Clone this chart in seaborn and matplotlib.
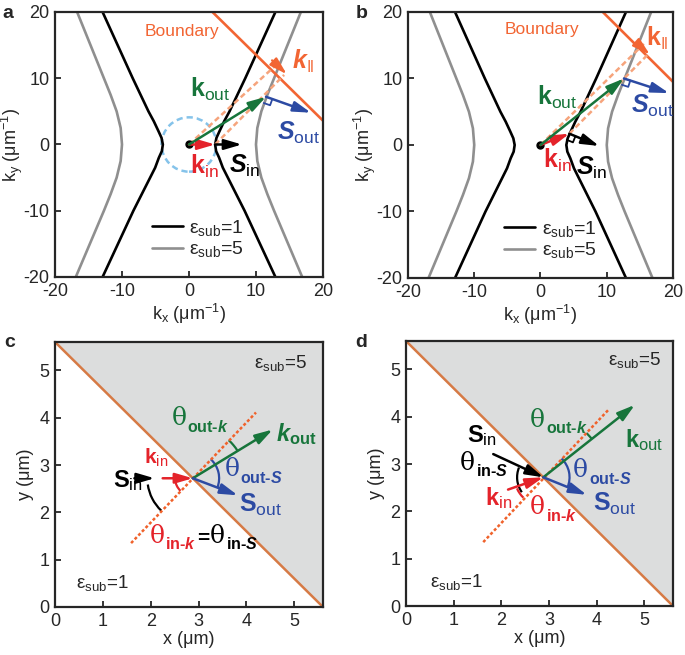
import numpy as np
import pandas as pd
import matplotlib
matplotlib.use("Agg")
import matplotlib.pyplot as plt
from matplotlib.patches import Arc, Circle
from matplotlib.lines import Line2D
import seaborn as sns

# ---- data ----
# dispersion curves, right branch (left branch is the mirror image)
ky_eps1 = [-20, -15, -10, -5, -3.5, -2, -1, 0, 1, 2, 3.5, 5, 10, 15, 20]
kx_eps1 = [12.9, 10.6, 8.3, 5.8, 5.05, 4.5, 4.05, 3.9, 4.1, 4.55, 5.25, 6.05, 8.4, 10.65, 12.9]
ky_eps5 = [-20, -15, -10, -7.5, -5, -2.5, 0, 2.5, 5, 7.5, 10, 15, 20]
kx_eps5 = [16.9, 14.8, 12.7, 11.7, 10.8, 10.2, 10.0, 10.2, 10.8, 11.7, 12.7, 14.7, 16.7]

# panel a vectors (kx, ky)
a_kin = (3.9, 0.0)
a_sin = (7.9, 0.0)
a_kout = (11.5, 7.2)
a_sout = (18.2, 4.8)
a_bound_x = [3.5, 20.0]
a_bound_y = [20.0, 3.6]
a_kpar = [(12.4, 12.7), (14.6, 10.6)]
a_dash_up = [(0.0, 0.0), (12.9, 11.9)]
a_dash_lo = [(3.9, 0.0), (14.2, 10.5)]
a_circle_r = 4.1

# panel b vectors
b_kin = (4.35, 1.7)
b_sin = (8.85, -0.15)
b_kout = (12.6, 10.0)
b_sout = (19.4, 7.8)
b_bound_x = [9.4, 20.0]
b_bound_y = [20.0, 9.5]
b_kpar = [(14.9, 15.0), (16.5, 13.6)]
b_dash_up = [(0.0, 0.0), (15.6, 15.2)]
b_dash_lo = [(4.35, 1.7), (16.1, 13.5)]

# panels c/d: real space
xy_ticks = [0, 1, 2, 3, 4, 5]
bound_x = [0.0, 5.6]
bound_y = [5.6, 0.0]
hit = (2.88, 2.72)
c_normal = [(1.59, 1.35), (4.2, 4.11)]
c_sin = [(1.66, 2.72), (2.08, 2.72)]
c_kin = [(2.25, 2.72), hit]
c_kout = (4.55, 3.75)
c_sout = (3.82, 2.36)
c_arcs = [(0.95, 188, 226, "k"), (0.37, 185, 226, "red"),
          (1.1, 32, 47, "green"), (0.55, -21, 47, "blue")]

d_normal = [(1.62, 1.35), (4.24, 4.14)]
d_sin = [(1.83, 3.21), hit]
d_kin = [(2.14, 2.46), hit]
d_kout = (4.8, 4.25)
d_sout = (3.79, 2.35)
d_arcs = [(0.55, 158, 215, "k"), (0.6, 203, 226, "red"),
          (1.3, 39, 46, "green"), (0.55, -23, 46, "blue")]

# ---- style ----
sns.set_style("ticks")
plt.rcParams["font.family"] = ["Liberation Sans", "DejaVu Sans"]
plt.rcParams["axes.unicode_minus"] = False
plt.rcParams["mathtext.fontset"] = "custom"
plt.rcParams["mathtext.rm"] = "Liberation Sans"
plt.rcParams["mathtext.bf"] = "Liberation Sans:bold"
plt.rcParams["mathtext.it"] = "Liberation Sans:italic"
plt.rcParams["mathtext.bfit"] = "Liberation Sans:italic:bold"

COL = {"red": "#e4232a", "green": "#17753b", "blue": "#2c4aa3", "k": "black",
       "orange": "#f26533", "salmon": "#f6a47c", "lblue": "#85c3ea",
       "gray": "#8f8f8f", "bound": "#d67a45", "normal": "#f0622b", "fill": "#dcdddd"}


def arrow(ax, p0, p1, color, lw=1.8, hl=0.75, hw=0.22, ms=14):
    ax.annotate("", xy=p1, xytext=p0,
                arrowprops=dict(arrowstyle=f"-|>,head_length={hl},head_width={hw}",
                                color=color, lw=lw, shrinkA=0, shrinkB=0,
                                mutation_scale=ms))


def right_angle(ax, corner, toward, color, s=1.0):
    # small square: one side along the arrow, the other pointing down-left of it
    u = np.subtract(toward, corner)
    u = u / np.hypot(*u)
    v = np.array([-abs(u[1]), -abs(u[0])])
    c = np.array(corner)
    pts = np.array([c + s * u, c + s * u + s * v, c + s * v])
    ax.plot(pts[:, 0], pts[:, 1], color=color, lw=1.3)


def style_axes(ax):
    for sp in ax.spines.values():
        sp.set_linewidth(1.6)
        sp.set_visible(True)
    ax.tick_params(direction="in", length=4, width=1.3, labelsize=13,
                   top=False, right=False, pad=4)


fig = plt.figure(figsize=(6.85, 6.55), dpi=100)
ax_a = fig.add_axes([0.0803, 0.5771, 0.3912, 0.4046])
ax_b = fig.add_axes([0.5956, 0.5756, 0.3869, 0.4061])
ax_c = fig.add_axes([0.0803, 0.0733, 0.3912, 0.4046])
ax_d = fig.add_axes([0.5927, 0.0748, 0.3898, 0.4046])

curves = pd.DataFrame({"ky": ky_eps1 + ky_eps5,
                       "kx": kx_eps1 + kx_eps5,
                       "eps": ["1"] * len(ky_eps1) + ["5"] * len(ky_eps5)})

eps_lab = lambda v: "ε$_{\\mathrm{sub}}$=" + v


def kspace(ax, kin, sin, kout, sout, bx, by, kpar, dup, dlo):
    for eps, col in [("5", COL["gray"]), ("1", COL["k"])]:
        sub = curves[curves.eps == eps]
        sns.lineplot(x=sub.kx.values, y=sub.ky.values, sort=False, estimator=None,
                     color=col, lw=1.9, ax=ax)
        sns.lineplot(x=-sub.kx.values, y=sub.ky.values, sort=False, estimator=None,
                     color=col, lw=1.9, ax=ax)
    ax.plot(bx, by, color=COL["orange"], lw=1.9)
    for d in (dup, dlo):
        ax.plot([d[0][0], d[1][0]], [d[0][1], d[1][1]], color=COL["salmon"],
                lw=1.8, ls=(0, (2.2, 1.3)))
    arrow(ax, kpar[0], kpar[1], COL["orange"], lw=1.6)
    arrow(ax, kin, sin, "k")
    arrow(ax, (0, 0), kin, COL["red"])
    arrow(ax, (0, 0), kout, COL["green"])
    arrow(ax, kout, sout, COL["blue"])
    ax.plot([0], [0], "o", color="k", ms=5)
    ax.set_xlim(-20, 20)
    ax.set_ylim(-20, 20)
    ax.set_xticks([-20, -10, 0, 10, 20])
    ax.set_yticks([-20, -10, 0, 10, 20])
    ax.set_xlabel("k$_\\mathrm{x}$ (μm$^{\\mathrm{-1}}$)", fontsize=13, labelpad=2)
    ax.set_ylabel("k$_\\mathrm{y}$ (μm$^{\\mathrm{-1}}$)", fontsize=13, labelpad=-1)
    handles = [Line2D([], [], color="k", lw=1.9), Line2D([], [], color=COL["gray"], lw=1.9)]
    ax.legend(handles, [eps_lab("1"), eps_lab("5")],
              loc="lower left", bbox_to_anchor=(0.295, 0.0), frameon=False,
              fontsize=14, handlelength=1.6, handletextpad=0.35, labelspacing=0.1)
    style_axes(ax)


kspace(ax_a, a_kin, a_sin, a_kout, a_sout, a_bound_x, a_bound_y, a_kpar,
       a_dash_up, a_dash_lo)
ax_a.add_patch(Circle((0, 0), a_circle_r, fill=False, ls=(0, (2.5, 1.6)),
                      color=COL["lblue"], lw=1.8))
right_angle(ax_a, a_kout, a_sout, COL["blue"])
lab = dict(ha="left", va="center")
ax_a.text(-6.6, 17.1, "Boundary", color=COL["orange"], fontsize=12.5, **lab)
ax_a.text(0.15, 8.3, r"$\mathbf{k}_{\mathrm{out}}$", color=COL["green"], fontsize=18, **lab)
ax_a.text(13.15, 1.7, r"$\mathbfit{S}_{\mathrm{out}}$", color=COL["blue"], fontsize=18, **lab)
ax_a.text(0.15, -3.3, r"$\mathbf{k}_{\mathrm{in}}$", color=COL["red"], fontsize=18, **lab)
ax_a.text(5.9, -3.3, r"$\mathbfit{S}_{\mathrm{in}}$", color="k", fontsize=18, **lab)
ax_a.text(15.4, 12.5, r"$\mathbfit{k}_{\mathrm{‖}}$", color=COL["orange"], fontsize=18, **lab)

kspace(ax_b, b_kin, b_sin, b_kout, b_sout, b_bound_x, b_bound_y, b_kpar,
       b_dash_up, b_dash_lo)
right_angle(ax_b, b_kin, b_sin, "k")
right_angle(ax_b, b_kout, b_sout, COL["blue"])
ax_b.text(-5.4, 17.3, "Boundary", color=COL["orange"], fontsize=12.5, **lab)
ax_b.text(-0.5, 7.15, r"$\mathbf{k}_{\mathrm{out}}$", color=COL["green"], fontsize=18, **lab)
ax_b.text(13.6, 5.9, r"$\mathbfit{S}_{\mathrm{out}}$", color=COL["blue"], fontsize=18, **lab)
ax_b.text(0.35, -2.3, r"$\mathbf{k}_{\mathrm{in}}$", color=COL["red"], fontsize=18, **lab)
ax_b.text(5.3, -3.4, r"$\mathbfit{S}_{\mathrm{in}}$", color="k", fontsize=18, **lab)
ax_b.text(15.85, 16.0, r"$\mathbf{k}_{\mathrm{‖}}$", color=COL["orange"], fontsize=18, **lab)


def theta(ax, x, y, sub, sym, color):
    # big serif theta, then a smaller bold subscript "sub-sym" placed after it
    ax.annotate("θ", xy=(x, y), ha="left", va="center", color=color,
                fontsize=18, family="DejaVu Serif")
    ax.annotate(r"$\mathbf{" + sub + "‐}\\mathbfit{" + sym + "}$", xy=(x, y),
                xytext=(11.5, -6), textcoords="offset points",
                ha="left", va="center", color=color, fontsize=11.5)


def realspace(ax, normal, arcs):
    ax.fill_between(bound_x, bound_y, [5.6, 5.6], color=COL["fill"], lw=0)
    ax.plot(bound_x, bound_y, color=COL["bound"], lw=1.8)
    ax.plot([normal[0][0], normal[1][0]], [normal[0][1], normal[1][1]],
            color=COL["normal"], lw=1.8, ls=(0, (1.2, 0.9)))
    for r, t1, t2, c in arcs:
        ax.add_patch(Arc(hit, 2 * r, 2 * r, theta1=t1, theta2=t2, color=COL[c], lw=1.6))
    ax.set_xlim(0, 5.6)
    ax.set_ylim(0, 5.6)
    ax.set_xticks(xy_ticks)
    ax.set_yticks(xy_ticks)
    ax.set_xlabel("x (μm)", fontsize=13, labelpad=1)
    ax.set_ylabel("y (μm)", fontsize=13, labelpad=4)
    style_axes(ax)


realspace(ax_c, c_normal, c_arcs)
arrow(ax_c, c_sin[0], c_sin[1], "k")
arrow(ax_c, c_kin[0], c_kin[1], COL["red"])
arrow(ax_c, hit, c_kout, COL["green"])
arrow(ax_c, hit, c_sout, COL["blue"])
ax_c.text(4.16, 5.15, eps_lab("5"), fontsize=13.5, **lab)
ax_c.text(0.44, 0.5, eps_lab("1"), fontsize=13.5, **lab)
theta(ax_c, 2.43, 3.98, "out", "k", COL["green"])
ax_c.text(4.62, 3.66, r"$\mathbfit{k}_{\mathbf{out}}$", color=COL["green"], fontsize=17, **lab)
ax_c.text(1.87, 3.15, r"$\mathbf{k}_{\mathrm{in}}$", color=COL["red"], fontsize=15, **lab)
ax_c.text(1.21, 2.67, r"$\mathbf{S}_{\mathrm{in}}$", color="k", fontsize=17, **lab)
theta(ax_c, 3.54, 2.9, "out", "S", COL["blue"])
ax_c.text(3.85, 2.16, r"$\mathbf{S}_{\mathrm{out}}$", color=COL["blue"], fontsize=18, **lab)
theta(ax_c, 1.97, 1.5, "in", "k", COL["red"])
ax_c.text(2.96, 1.45, "=", color="k", fontsize=15, fontweight="bold", **lab)
theta(ax_c, 3.24, 1.5, "in", "S", "k")

realspace(ax_d, d_normal, d_arcs)
arrow(ax_d, d_sin[0], d_sin[1], "k")
arrow(ax_d, d_kin[0], d_kin[1], COL["red"])
arrow(ax_d, hit, d_kout, COL["green"])
arrow(ax_d, hit, d_sout, COL["blue"])
ax_d.text(4.24, 5.2, eps_lab("5"), fontsize=13.5, **lab)
ax_d.text(0.5, 0.5, eps_lab("1"), fontsize=13.5, **lab)
ax_d.text(1.27, 3.61, r"$\mathbf{S}_{\mathrm{in}}$", color="k", fontsize=17, **lab)
theta(ax_d, 1.13, 3.02, "in", "S", "k")
ax_d.text(1.65, 2.29, r"$\mathbf{k}_{\mathrm{in}}$", color=COL["red"], fontsize=17, **lab)
theta(ax_d, 2.6, 2.08, "in", "k", COL["red"])
theta(ax_d, 2.6, 3.93, "out", "k", COL["green"])
ax_d.text(4.59, 3.5, r"$\mathbf{k}_{\mathrm{out}}$", color=COL["green"], fontsize=17, **lab)
theta(ax_d, 3.5, 2.86, "out", "S", COL["blue"])
ax_d.text(3.92, 2.15, r"$\mathbf{S}_{\mathrm{out}}$", color=COL["blue"], fontsize=18, **lab)

for t, x, y in [("a", 0.004, 0.993), ("b", 0.520, 0.993), ("c", 0.006, 0.490), ("d", 0.518, 0.490)]:
    fig.text(x, y, t, fontsize=14, fontweight="bold", ha="left", va="top")

fig.savefig("out.png", dpi=100)
